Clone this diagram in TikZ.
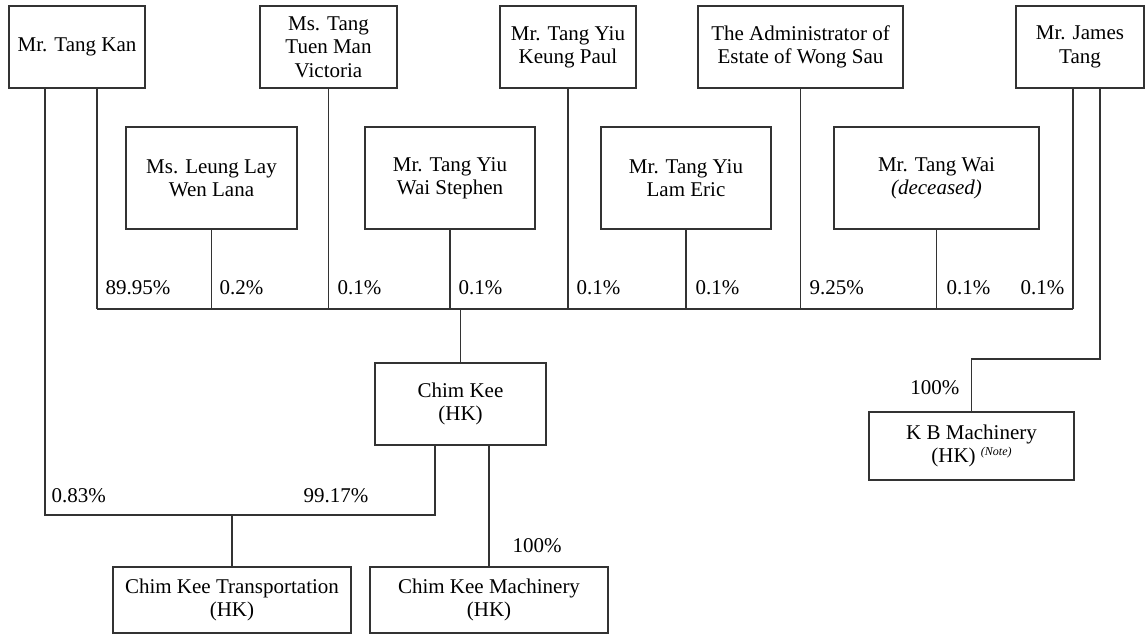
\documentclass[tikz,border=0pt]{standalone}
\usepackage{fontspec}
\setmainfont{Liberation Serif}
\begin{document}
\begin{tikzpicture}[x=1pt,y=-1pt,line width=1.1pt,draw=black!80,
font=\fontsize{21}{23.3}\selectfont,
box/.style={draw,align=center,inner sep=0pt},
upper/.style={box,minimum height=82pt},
lower/.style={box,minimum height=102pt},
pct/.style={inner sep=0pt,anchor=base west}]
	\useasboundingbox (0,0) rectangle (1145,635);
	\node[upper,minimum width=136pt] (kan) at (77,47) {Mr. Tang Kan};
	\node[upper,minimum width=137pt] (victoria) at (328.5,47) {Ms. Tang\\Tuen Man\\Victoria};
	\node[upper,minimum width=136pt] (paul) at (568,47) {Mr. Tang Yiu\\Keung Paul};
	\node[upper,minimum width=205pt] (admin) at (800.5,47) {The Administrator of\\Estate of Wong Sau};
	\node[upper,minimum width=128pt] (james) at (1080,47) {Mr. James\\Tang};
	\node[lower,minimum width=171pt] (leung) at (211.5,178) {Ms. Leung Lay\\Wen Lana};
	\node[lower,minimum width=170pt] (stephen) at (450,178) {Mr. Tang Yiu\\Wai Stephen};
	\node[lower,minimum width=170pt] (eric) at (686,178) {Mr. Tang Yiu\\Lam Eric};
	\node[lower,minimum width=205pt] (wai) at (936.5,178) {Mr. Tang Wai\\\textit{(deceased)}};
	\node[box,minimum width=171pt,minimum height=82pt] (chimkee) at (460.5,404) {Chim Kee\\(HK)};
	\node[box,minimum width=238pt,minimum height=66pt] (transport) at (232,600) {Chim Kee Transportation\\(HK)};
	\node[box,minimum width=238pt,minimum height=66pt] (machinery) at (489,600) {Chim Kee Machinery\\(HK)};
	\node[box,minimum width=205pt,minimum height=68pt] (kb) at (971.5,446)
		{K B Machinery\\(HK) \raisebox{7pt}{\fontsize{12}{12}\selectfont\itshape (Note)}};

	\coordinate (busL) at (97,309);
	\coordinate (busR) at (1073,309);
	\coordinate (tL) at (45,515);
	\coordinate (tR) at (435,515);
	\coordinate (kbC) at (1100,359);
	\draw (busL) -- (busR);
	\draw (kan.south -| busL) -- (busL);
	\draw (james.south -| busR) -- (busR);
	\foreach \n in {leung,victoria,stephen,paul,eric,admin,wai}
		\draw (\n.south) -- (\n.south |- busL);
	\draw (chimkee.north) -- (chimkee.north |- busL);
	\draw (kan.south -| tL) -- (tL) -- (tR) -- (chimkee.south -| tR);
	\draw (transport.north |- tL) -- (transport.north);
	\draw (chimkee.south -| machinery) -- (machinery.north);
	\draw (james.south -| kbC) -- (kbC) -| (kb.north);

	\node[pct] (p1) at (105,294) {89.95\%};
	\node[pct] (p2) at (219,294) {0.2\%};
	\node[pct] (p3) at (337,294) {0.1\%};
	\node[pct] (p4) at (458,294) {0.1\%};
	\node[pct] (p5) at (576,294) {0.1\%};
	\node[pct] (p6) at (695,294) {0.1\%};
	\node[pct] (p7) at (809,294) {9.25\%};
	\node[pct] (p8) at (946,294) {0.1\%};
	\node[pct,anchor=base east] (p9) at (1065,294) {0.1\%};
	\node[pct] (q1) at (51,502) {0.83\%};
	\node[pct,anchor=base east] (q2) at (369,502) {99.17\%};
	\node[pct] (q3) at (512,552) {100\%};
	\node[pct,anchor=base east] (q4) at (960,394) {100\%};
\end{tikzpicture}
\end{document}
